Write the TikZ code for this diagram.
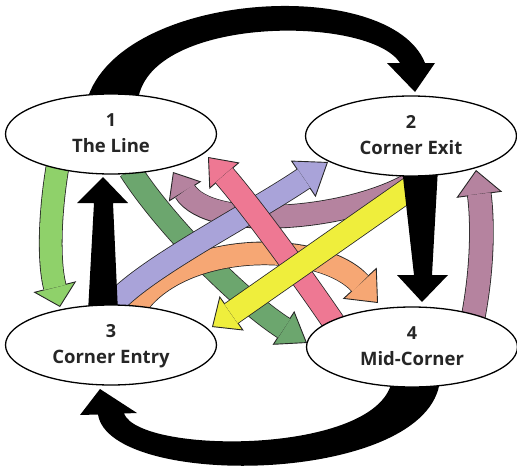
\documentclass[tikz,border=0pt]{standalone}
\usepackage{fontspec}
\setmainfont{Open Sans}
\usetikzlibrary{arrows.meta,calc,shapes.geometric,backgrounds}
\definecolor{cLG}{HTML}{8FD16A}
\definecolor{cDG}{HTML}{6CA66E}
\definecolor{cMV}{HTML}{B5839F}
\definecolor{cPK}{HTML}{EE7893}
\definecolor{cPU}{HTML}{A9A3D9}
\definecolor{cYE}{HTML}{EFEE3C}
\definecolor{cOR}{HTML}{F6A774}
\definecolor{cTX}{HTML}{262626}
\newcommand\fatarrow[5]{%
  \draw[line width=#2+1.6pt, draw=black!85, -{Triangle[length=#3, width=#4, fill=#1, line width=0.9pt]}] #5;
  \draw[line width=#2, draw=#1, shorten >=#3-0.8pt] #5;
}
\tikzset{
  ell/.style={ellipse, draw=black, line width=1.3pt, fill=white, minimum width=211pt, minimum height=80pt, inner sep=0pt},
  numtxt/.style={anchor=base, font=\bfseries\fontsize{18}{20}\selectfont, text=cTX, inner sep=0pt},
  lbltxt/.style={anchor=base, font=\bfseries\fontsize{18.5}{20}\selectfont, text=cTX, inner sep=0pt},
  blk/.style={fill=black}
}
\begin{document}
\begin{tikzpicture}[x=1pt,y=-1pt]
\useasboundingbox (0,0) rectangle (517,471);
% ellipses (states)
\node[ell] (e1) at (111,134) {};
\node[ell] (e2) at (411,136) {};
\node[ell] (e3) at (111,345) {};
\node[ell] (e4) at (412,347) {};
\node[numtxt] (n1) at ($(e1)+(0,-8)$) {1};
\node[lbltxt] (t1) at ($(e1)+(0,18)$) {The Line};
\node[numtxt] (n2) at ($(e2)+(0,-8)$) {2};
\node[lbltxt] (t2) at ($(e2)+(0,18)$) {Corner Exit};
\node[numtxt] (n3) at ($(e3)+(0,-8)$) {3};
\node[lbltxt] (t3) at ($(e3)+(0,18)$) {Corner Entry};
\node[numtxt] (n4) at ($(e4)+(0,-8)$) {4};
\node[lbltxt] (t4) at ($(e4)+(0,18)$) {Mid-Corner};
\begin{scope}[on background layer]
% coloured connectors
\fatarrow{cLG}{22pt}{21pt}{44pt}{($(e1)+(-53,30)$) .. controls (50,210) and (48,260) .. ($(e3)+(-51,-38)$)}
\fatarrow{cMV}{23pt}{25pt}{46pt}{($(e4)+(61,-29)$) .. controls (484,260) and (482,215) .. ($(e2)+(65,34)$)}
\fatarrow{cDG}{22pt}{28pt}{40pt}{($(e1)+(19,36)$) .. controls (165,225) and (240,300) .. ($(e4)+(-105,-4)$)}
\fatarrow{cMV}{22pt}{23pt}{38pt}{($(e2)+(1,47)$) .. controls (350,220) and (210,232) .. ($(e1)+(62,38)$)}
\fatarrow{cOR}{22pt}{27pt}{46pt}{($(e3)+(24,-37)$) .. controls (180,240) and (320,240) .. ($(e4)+(-34,-44)$)}
\fatarrow{cPU}{22pt}{30pt}{44pt}{($(e3)+(-1,-37)$) .. controls (140,270) and (250,215) .. ($(e2)+(-83,26)$)}
\fatarrow{cPK}{22pt}{25pt}{40pt}{($(e4)+(-76,-21)$) .. controls (305,280) and (250,205) .. ($(e1)+(97,23)$)}
\fatarrow{cYE}{23pt}{24pt}{42pt}{($(e2)+(4,49)$) -- ($(e3)+(101,-18)$)}
% black connectors
\fill[blk] (87,100) .. controls (120,-10) and (390,-25) .. (425,63) -- (435,63) -- (415,92) -- (387,63) -- (400,63) .. controls (370,15) and (150,15) .. (138,100) -- cycle;
\fill[blk] (440,380) .. controls (430,485) and (110,490) .. (98,414.5) -- (80,415) -- (100,389) -- (137,413) -- (124,413.5) .. controls (140,455) and (380,455) .. (392,380) -- cycle;
\fill[blk] (88,312) -- (94,203) -- (77,203) -- (103,177) -- (128,203) -- (113,203) -- (118,312) -- cycle;
\fill[blk] (402,168) -- (414,275) -- (397,275) -- (422,302) -- (448,275) -- (432,275) -- (438,168) -- cycle;
\end{scope}
\end{tikzpicture}
\end{document}
